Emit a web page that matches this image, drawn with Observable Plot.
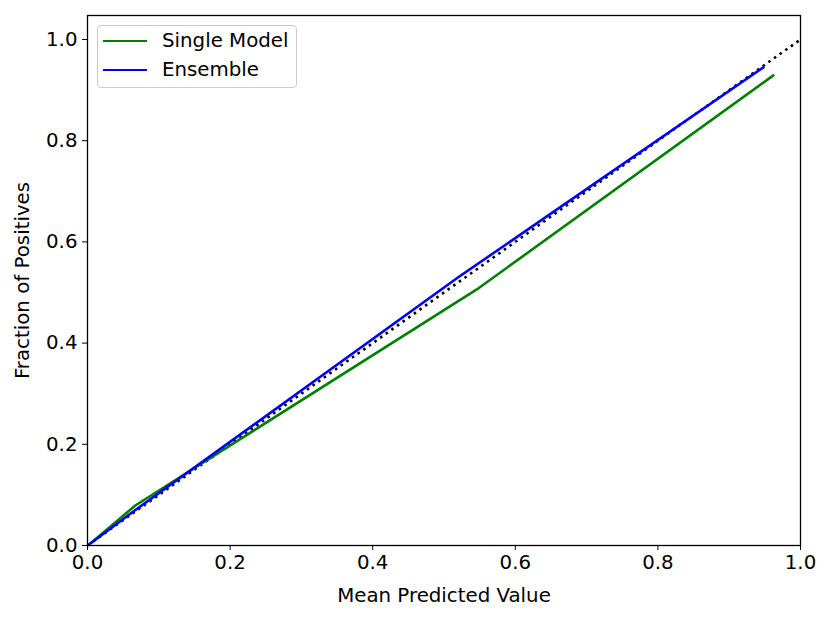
<!DOCTYPE html>
<html>
<head>
<meta charset="utf-8">
<script src="https://cdn.jsdelivr.net/npm/d3@7"></script>
<script src="https://cdn.jsdelivr.net/npm/@observablehq/plot@0.6"></script>
<style>
  html, body { margin: 0; padding: 0; background: #fff; }
  #wrap { position: relative; width: 831px; height: 621px; font-family: "DejaVu Sans", sans-serif; }
  #legend { position: absolute; left: 97px; top: 25px; width: 200px; height: 63px; border: 1px solid #cccccc; border-radius: 4px; background: rgba(255,255,255,0.8); box-sizing: border-box; }
  .item { position: absolute; left: 0; display: flex; align-items: center; font-size: 19.8px; line-height: 24px; color: #000; }
  .swatch { display: inline-block; width: 44px; height: 0; border-top: 2.6px solid; margin-left: 5px; margin-right: 15px; }
</style>
</head>
<body>
<div id="wrap">
  <div id="chart"></div>
  <div id="legend"></div>
</div>
<script>
// Data
const singleX = [0.004, 0.067, 0.546, 0.962];
const singleY = [0.004, 0.079, 0.506, 0.929];
const ensembleX = [0.004, 0.069, 0.520, 0.948];
const ensembleY = [0.004, 0.072, 0.530, 0.945];
const diagX = [0, 1];
const diagY = [0, 1];
const xTicks = [0, 0.2, 0.4, 0.6, 0.8, 1.0];
const yTicks = [0, 0.2, 0.4, 0.6, 0.8, 1.0];
const seriesNames = ["Single Model", "Ensemble"];
const seriesColors = ["#008000", "#0000ff"];

const single = singleX.map((x, i) => ({x, y: singleY[i]}));
const ensemble = ensembleX.map((x, i) => ({x, y: ensembleY[i]}));
const diag = diagX.map((x, i) => ({x, y: diagY[i]}));

const fmt = d3.format(".1f");

const chart = Plot.plot({
  width: 831,
  height: 621,
  marginLeft: 87,
  marginRight: 31,
  marginTop: 15,
  marginBottom: 76,
  style: { fontFamily: "DejaVu Sans, sans-serif", fontSize: "19.8px", color: "#000", background: "#fff" },
  x: { domain: [0, 1] },
  y: { domain: [0, 1.0474] },
  marks: [
    Plot.line(diag, {x: "x", y: "y", stroke: "#000", strokeWidth: 2.6, strokeDasharray: "2.6,4.3", strokeLinecap: "butt"}),
    Plot.line(single, {x: "x", y: "y", stroke: seriesColors[0], strokeWidth: 2.6}),
    Plot.line(ensemble, {x: "x", y: "y", stroke: seriesColors[1], strokeWidth: 2.6}),
    Plot.frame({stroke: "#000", strokeWidth: 1.3}),
    Plot.axisX({ticks: xTicks, tickFormat: fmt, tickSize: 5, tickPadding: 4, label: null, stroke: "#000", fontSize: 19.8}),
    Plot.axisY({ticks: yTicks, tickFormat: fmt, tickSize: 5, tickPadding: 5, label: null, stroke: "#000", fontSize: 19.8}),
    Plot.text(["Mean Predicted Value"], {frameAnchor: "bottom", dy: 56, fontSize: 19.8, fill: "#000"}),
    Plot.text(["Fraction of Positives"], {frameAnchor: "left", textAnchor: "middle", dx: -65, rotate: -90, fontSize: 19.8, fill: "#000"})
  ]
});
document.getElementById("chart").appendChild(chart);

const legend = document.getElementById("legend");
seriesNames.forEach((name, i) => {
  const it = document.createElement("div");
  it.className = "item";
  it.style.top = (3 + i * 29) + "px";
  it.innerHTML = `<span class="swatch" style="border-color:${seriesColors[i]}"></span><span>${name}</span>`;
  legend.appendChild(it);
});
</script>
</body>
</html>
